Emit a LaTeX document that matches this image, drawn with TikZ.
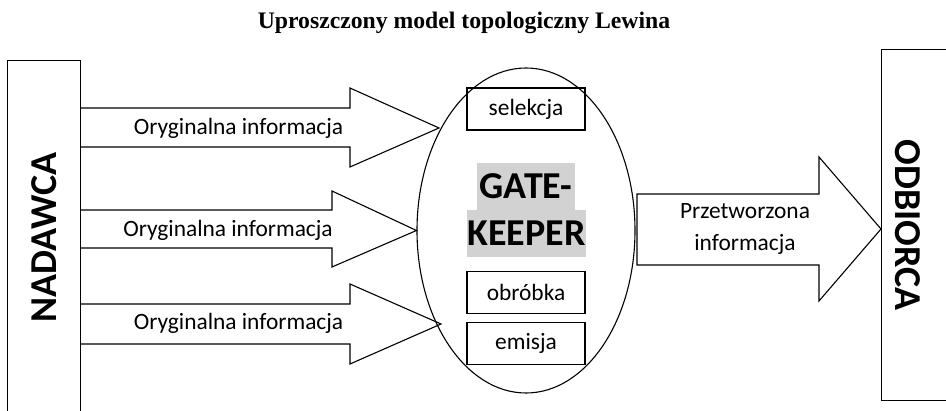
\documentclass[tikz,border=0pt]{standalone}
\usepackage{fontspec}
\setmainfont{Carlito}
\newfontfamily\titlefont{Liberation Serif}
\usetikzlibrary{shapes.geometric}
\begin{document}
\begin{tikzpicture}[x=1pt, y=-1pt, line width=1.1pt,
  lbl/.style={font=\fontsize{23.4}{32}\selectfont},
  big/.style={font=\fontsize{38}{40}\selectfont\bfseries},
  task/.style={rectangle, draw, minimum width=118pt, minimum height=42pt, inner sep=0pt, lbl}]
\useasboundingbox (0,0) rectangle (946,411);
\clip (0,0) rectangle (946,411);

\draw (464,23) node (title) {\titlefont\bfseries\fontsize{23.7}{28}\selectfont Uproszczony model topologiczny Lewina};

\draw (7,60) node (nad) [anchor=north west, rectangle, draw, minimum width=73pt, minimum height=354pt] {};
\draw (nad) node [rotate=90, big] {NADAWCA};

\draw (881,49) node (odb) [anchor=north west, rectangle, draw, minimum width=80pt, minimum height=351pt] {};
\draw (908,225) node (odbtxt) [rotate=-90, big] {ODBIORCA};

\draw (526,230.5) node (gk) [ellipse, draw, minimum width=218pt, minimum height=325pt] {};

\draw (gk.center |- 0,109) node (sel) [task] {selekcja};
\draw (gk.center |- 0,292.5) node (obr) [task] {obróbka};
\draw (gk.center |- 0,343.5) node (emi) [task] {emisja};

\draw (gk.center |- 0,186.5) node (gate) [fill=gray!35, minimum width=98pt, minimum height=47pt, inner sep=0pt, big] {GATE-};
\draw (526.5,233.5) node (keeper) [fill=gray!35, minimum width=119pt, minimum height=47pt, inner sep=0pt, big] {KEEPER};

\draw (nad.east |- 0,108) -- (350,108) -- (350,88) -- (439,128) -- (350,167) -- (350,147) -- (nad.east |- 0,147);
\draw (238.5,128) node (in1) [lbl] {Oryginalna informacja};

\draw (nad.east |- 0,210) -- (332,210) -- (332,191) -- (gk.west) -- (332,267) -- (332,248) -- (nad.east |- 0,248);
\draw (228,230) node (in2) [lbl] {Oryginalna informacja};

\draw (nad.east |- 0,304) -- (350,304) -- (350,284) -- (441,324) -- (350,364) -- (350,344) -- (nad.east |- 0,344);
\draw (238.5,323) node (in3) [lbl] {Oryginalna informacja};

\draw (637,194) -- (819,194) -- (819,157) -- (odb.west |- 0,229) -- (819,301) -- (819,265) -- (637,265) -- cycle;
\draw (745,229) node (out) [lbl, align=center] {Przetworzona\\informacja};

\end{tikzpicture}
\end{document}
